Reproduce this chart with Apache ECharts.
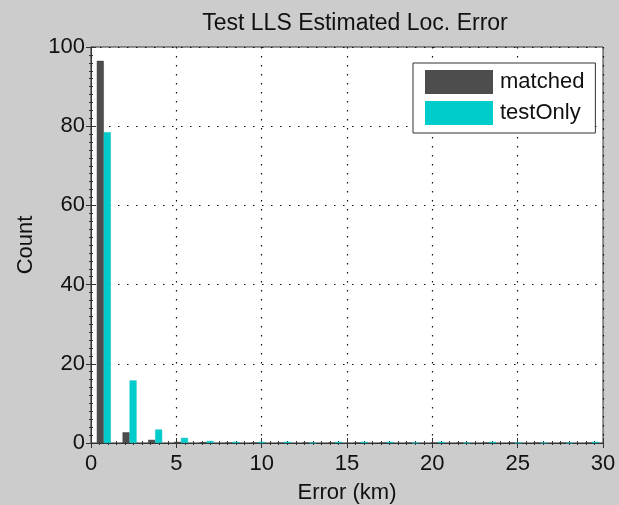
<!DOCTYPE html>
<html>
<head>
<meta charset="utf-8">
<script src="https://cdn.jsdelivr.net/npm/echarts@6/dist/echarts.min.js"></script>
<style>
  html, body { margin: 0; padding: 0; background: #cccccc; }
  #chart { width: 619px; height: 505px; }
</style>
</head>
<body>
<div id="chart"></div>
<script>
// Histogram bin centres (km)
const binCenters = [0.75, 2.26, 3.76, 5.27, 6.77, 8.28, 9.78, 11.29, 12.79, 14.30,
                    15.80, 17.31, 18.81, 20.32, 21.82, 23.33, 24.83, 26.34, 27.84, 29.35];
// Counts per bin
const matchedCounts  = [96.5, 2.7, 0.8, 0.3, 0.2, 0, 0, 0, 0, 0, 0, 0, 0, 0, 0, 0, 0, 0, 0, 0];
const testOnlyCounts = [78.5, 15.8, 3.4, 1.3, 0.5, 0.3, 0.3, 0.3, 0, 0.3, 0.3, 0.3, 0, 0.3, 0, 0.3, 0, 0, 0, 0.3];
const xTicks = [0, 5, 10, 15, 20, 25, 30];
const yTicks = [0, 20, 40, 60, 80, 100];

const FONT = '"Liberation Sans", Arial, Helvetica, sans-serif';
const AXIS_COLOR = '#333333';

function pairs(vals) {
  return binCenters.map((x, i) => [x, vals[i]]);
}

const chart = echarts.init(document.getElementById('chart'), null, { renderer: 'canvas' });

const tickCommon = { show: true, inside: true, length: 5, lineStyle: { color: AXIS_COLOR, width: 1 } };
const minorCommon = { show: true, splitNumber: 10, length: 2, lineStyle: { color: AXIS_COLOR, width: 1 } };
const dotted = { show: true, lineStyle: { color: '#111', width: 1.2, type: [1.5, 7.5] } };

chart.setOption({
  backgroundColor: '#cccccc',
  animation: false,
  title: {
    text: 'Test LLS Estimated Loc. Error',
    left: 350, top: 7, textAlign: 'center',
    textStyle: { fontFamily: FONT, fontSize: 23, fontWeight: 'normal', color: '#111' }
  },
  legend: {
    orient: 'vertical',
    left: 413, top: 63,
    padding: [7, 11, 8, 12],
    itemWidth: 68, itemHeight: 24, itemGap: 7,
    backgroundColor: '#ffffff',
    borderColor: '#333', borderWidth: 1, borderRadius: 0,
    icon: 'rect',
    itemStyle: { borderWidth: 0 },
    textStyle: { fontFamily: FONT, fontSize: 22, color: '#111', padding: [0, 0, 0, 2] },
    data: ['matched', 'testOnly']
  },
  grid: {
    left: 91, right: 16, top: 47, bottom: 62,
    outerBoundsMode: 'none',
    containLabel: false,
    show: true, backgroundColor: '#ffffff', borderColor: AXIS_COLOR, borderWidth: 1
  },
  xAxis: [{
    type: 'value', min: xTicks[0], max: xTicks[xTicks.length - 1], interval: 5,
    name: 'Error (km)', nameLocation: 'middle', nameGap: 39,
    nameTextStyle: { fontFamily: FONT, fontSize: 22, color: '#111' },
    axisLine: { show: true, lineStyle: { color: AXIS_COLOR } },
    axisTick: tickCommon, minorTick: minorCommon,
    axisLabel: { fontFamily: FONT, fontSize: 22, color: '#111', margin: 10 },
    splitLine: dotted
  }, {
    type: 'value', position: 'top', min: xTicks[0], max: xTicks[xTicks.length - 1], interval: 5,
    axisLine: { show: true, lineStyle: { color: AXIS_COLOR } },
    axisTick: tickCommon, minorTick: minorCommon,
    axisLabel: { show: false }, splitLine: { show: false }
  }],
  yAxis: [{
    type: 'value', min: yTicks[0], max: yTicks[yTicks.length - 1], interval: 20,
    name: 'Count', nameLocation: 'middle', nameGap: 47,
    nameTextStyle: { fontFamily: FONT, fontSize: 22, color: '#111' },
    axisLine: { show: true, lineStyle: { color: AXIS_COLOR } },
    axisTick: tickCommon, minorTick: minorCommon,
    axisLabel: { fontFamily: FONT, fontSize: 22, color: '#111', margin: 6 },
    splitLine: dotted
  }, {
    type: 'value', position: 'right', min: yTicks[0], max: yTicks[yTicks.length - 1], interval: 20,
    axisLine: { show: true, lineStyle: { color: AXIS_COLOR } },
    axisTick: tickCommon, minorTick: minorCommon,
    axisLabel: { show: false }, splitLine: { show: false }
  }],
  series: [{
    name: 'matched', type: 'bar', xAxisIndex: 0, yAxisIndex: 0,
    data: pairs(matchedCounts),
    barWidth: 7, barGap: '0%',
    itemStyle: { color: '#4d4d4d', borderColor: '#3a3a3a', borderWidth: 0.5 }
  }, {
    name: 'testOnly', type: 'bar', xAxisIndex: 0, yAxisIndex: 0,
    data: pairs(testOnlyCounts),
    barWidth: 7, barGap: '0%',
    itemStyle: { color: '#00cccc', borderColor: '#00c0c0', borderWidth: 0.5 }
  }]
});
</script>
</body>
</html>
